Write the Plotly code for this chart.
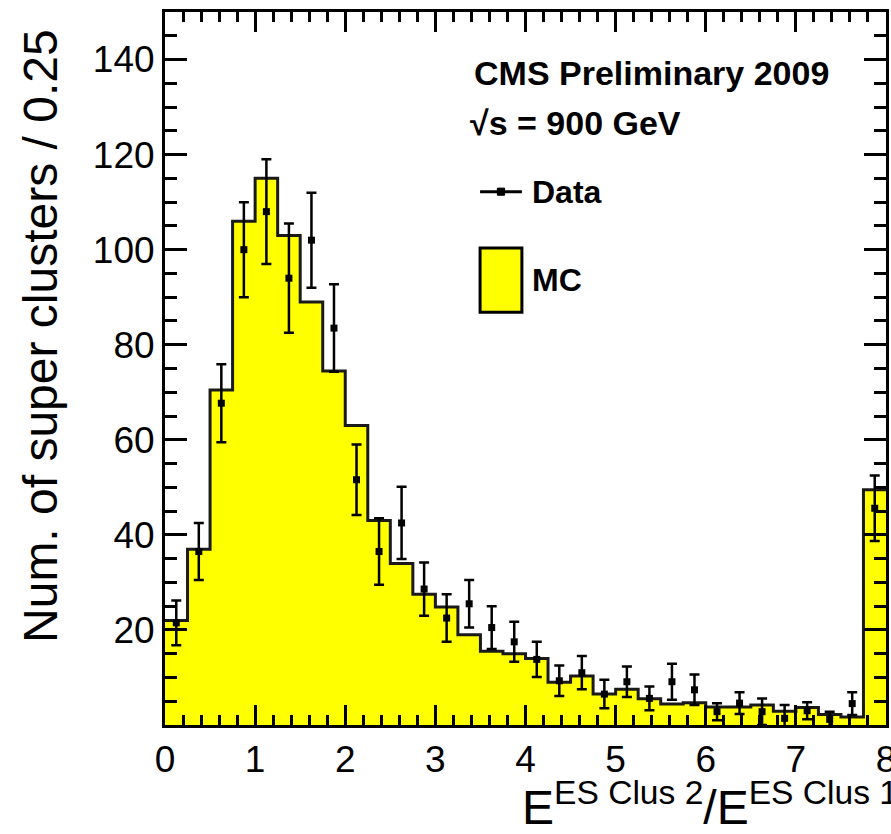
import plotly.graph_objects as go

# ---------------- data ----------------
bin_start = 0.0
bin_width = 0.25

mc_counts = [22, 37, 70.5, 106, 115, 103, 89, 74.5, 63, 43, 34, 27.5, 24.8, 19,
             15.5, 15, 14, 9, 10.3, 6.5, 7.5, 5.5, 4.4, 4.7, 3.8, 3.8, 4.2, 2.9,
             3.7, 2.2, 1.7, 49.5]

data_counts = [21.5, 36.5, 67.7, 100, 108, 94, 102, 83.5, 51.6, 36.5, 42.5, 28.6,
               22.5, 25.5, 20.5, 17.5, 13.8, 9.3, 11, 6.5, 9.1, 5.6, 9.1, 7.4,
               2.8, 4.6, 2.8, 1.4, 3.0, 1.2, 4.5, 45.6]

data_errors = [4.7, 6.0, 8.2, 10, 11, 11.5, 10, 9.2, 7.4, 7.0, 7.6, 5.6,
               5.0, 5.0, 4.5, 4.2, 3.7, 3.2, 3.5, 3.0, 3.2, 2.5, 3.8, 3.2,
               1.8, 2.3, 2.8, 2.8, 1.8, 1.6, 2.4, 6.9]

x_tick_vals = [0, 1, 2, 3, 4, 5, 6, 7, 8]
y_tick_vals = [0, 20, 40, 60, 80, 100, 120, 140]
y_tick_text = ["", "20", "40", "60", "80", "100", "120", "140"]

# ---------------- derived geometry ----------------
n = len(mc_counts)
edges = [bin_start + i * bin_width for i in range(n + 1)]
centers = [bin_start + (i + 0.5) * bin_width for i in range(n)]

FONT = "Liberation Sans, Arial, sans-serif"

fig = go.Figure()

# MC histogram (filled step)
fig.add_trace(go.Scatter(
    x=edges, y=mc_counts + [mc_counts[-1]],
    mode="lines", line=dict(shape="hv", color="#1a1a1a", width=3),
    fill="tozeroy", fillcolor="#ffff00", hoverinfo="skip", name="MC"))

# Data points with error bars
fig.add_trace(go.Scatter(
    x=centers, y=data_counts, mode="markers",
    marker=dict(symbol="square", size=7, color="black"),
    error_y=dict(type="data", array=data_errors, visible=True,
                 color="black", thickness=2.5, width=5),
    name="Data"))

fig.update_layout(
    width=891, height=834,
    margin=dict(l=165, r=5, t=12, b=109, autoexpand=False),
    paper_bgcolor="white", plot_bgcolor="white",
    showlegend=False,
    font=dict(family=FONT, color="black"),
)

fig.update_xaxes(
    range=[0, 8], showgrid=False, zeroline=False, automargin=False,
    showline=True, linewidth=3, linecolor="black", mirror="ticks",
    ticks="inside", ticklen=20, tickwidth=3, tickcolor="black",
    tickvals=x_tick_vals, tickfont=dict(size=37, family=FONT),
    ticklabeloverflow="allow",
    minor=dict(ticks="inside", ticklen=10, tickwidth=2.5, tickcolor="black",
               tickmode="linear", tick0=0, dtick=0.2, showgrid=False),
)
fig.update_yaxes(
    range=[0, 150], showgrid=False, zeroline=False, automargin=False,
    showline=True, linewidth=3, linecolor="black", mirror="ticks",
    ticks="inside", ticklen=22, tickwidth=3, tickcolor="black",
    tickvals=y_tick_vals, ticktext=y_tick_text,
    tickfont=dict(size=37, family=FONT), ticklabelstandoff=0,
    minor=dict(ticks="inside", ticklen=12, tickwidth=2.5, tickcolor="black",
               tickmode="linear", tick0=0, dtick=5, showgrid=False),
)

# axis titles
fig.add_annotation(
    xref="paper", yref="paper", x=-0.173, y=0.546,
    text="Num. of super clusters / 0.25", textangle=-90,
    showarrow=False, xanchor="center", yanchor="middle",
    font=dict(size=48, family=FONT, color="black"))

fig.add_annotation(
    xref="paper", yref="paper", x=0.492, y=-0.066,
    text="E<sup>ES Clus 2</sup>/E<sup>ES Clus 1</sup>",
    showarrow=False, xanchor="left", yanchor="top",
    font=dict(size=48, family=FONT, color="black"))

# text block
fig.add_annotation(
    xref="paper", yref="paper", x=0.426, y=0.914,
    text="<b>CMS Preliminary 2009</b>", showarrow=False,
    xanchor="left", yanchor="middle",
    font=dict(size=34, family=FONT, color="black"))
fig.add_annotation(
    xref="paper", yref="paper", x=0.420, y=0.844,
    text="<b>\u221as = 900 GeV</b>", showarrow=False,
    xanchor="left", yanchor="middle",
    font=dict(size=34, family=FONT, color="black"))

# legend: Data
fig.add_shape(type="line", xref="paper", yref="paper",
              x0=0.437, x1=0.495, y0=0.748, y1=0.748,
              line=dict(color="black", width=3))
fig.add_shape(type="rect", xref="paper", yref="paper",
              x0=0.461, x1=0.471, y0=0.743, y1=0.753,
              line=dict(color="black", width=1), fillcolor="black")
fig.add_annotation(
    xref="paper", yref="paper", x=0.506, y=0.748,
    text="<b>Data</b>", showarrow=False, xanchor="left", yanchor="middle",
    font=dict(size=32, family=FONT, color="black"))

# legend: MC
fig.add_shape(type="rect", xref="paper", yref="paper",
              x0=0.437, x1=0.495, y0=0.579, y1=0.669,
              line=dict(color="black", width=3), fillcolor="#ffff00")
fig.add_annotation(
    xref="paper", yref="paper", x=0.506, y=0.624,
    text="<b>MC</b>", showarrow=False, xanchor="left", yanchor="middle",
    font=dict(size=32, family=FONT, color="black"))

fig.write_html("out.html")
